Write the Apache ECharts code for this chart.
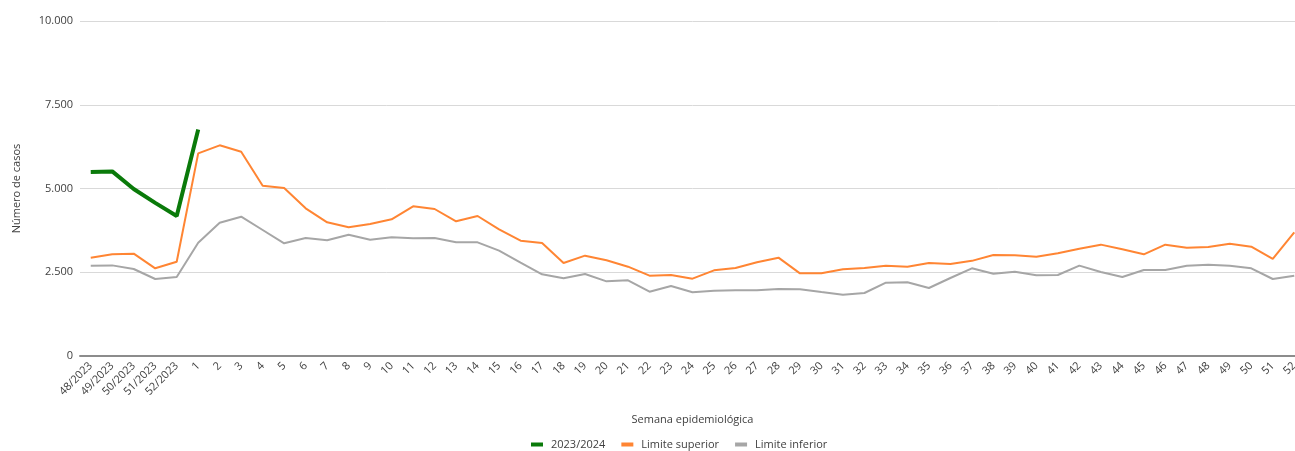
<!DOCTYPE html>
<html>
<head>
<meta charset="utf-8">
<style>
  html, body { margin: 0; padding: 0; background: #fff; overflow: hidden; }
  #chart { width: 1310px; height: 451px; }
</style>
<script src="https://cdn.jsdelivr.net/npm/echarts@6/dist/echarts.min.js"></script>
</head>
<body>
<div id="chart"></div>
<script>
// semanas: 48/2023..52/2023 y luego 1..52
const weeks = ['48/2023', '49/2023', '50/2023', '51/2023', '52/2023']
for (let i = 1; i <= 52; i++) weeks.push(String(i))

const current = [5490, 5510, 4985, 4570, 4180, 6760]

const upper = [
  2934, 3035, 3054, 2617, 2815,
  6050, 6289, 6099, 5084, 5015, 4409, 3990, 3841, 3940, 4080,
  4468, 4388, 4020, 4179, 3781, 3443, 3373, 2776, 2995, 2856,
  2666, 2398, 2418, 2308, 2557, 2627, 2796, 2935, 2468, 2468,
  2587, 2627, 2697, 2667, 2776, 2746, 2840, 3015, 3005, 2965,
  3065, 3204, 3324, 3184, 3035, 3324, 3234, 3254, 3353, 3264,
  2896, 3692
]

const lower = [
  2697, 2705, 2597, 2299, 2358,
  3383, 3980, 4159, 3761, 3363, 3522, 3453, 3622, 3473, 3542,
  3512, 3522, 3393, 3393, 3144, 2786, 2438, 2318, 2448, 2229,
  2259, 1920, 2090, 1901, 1950, 1960, 1960, 2000, 1990, 1910,
  1831, 1881, 2189, 2199, 2030, 2328, 2617, 2458, 2517, 2408,
  2418, 2697, 2507, 2358, 2567, 2567, 2697, 2726, 2697, 2617,
  2299, 2398
]

const yTicks = [0, 2500, 5000, 7500, 10000]

const FONT = "'Open Sans', 'Liberation Sans', sans-serif"
const TEXT = '#404040'

const chart = echarts.init(document.getElementById('chart'))

chart.setOption({
  animation: false,
  textStyle: { fontFamily: FONT },
  // el área de trazado se sale un poco por la derecha, como en la imagen original
  grid: { left: 80, width: 1225, top: 21, bottom: 95 },
  legend: {
    top: 434,
    left: 526,
    itemWidth: 12,
    itemHeight: 4,
    itemGap: 16,
    icon: 'rect',
    textStyle: { color: TEXT, fontSize: 11, fontFamily: FONT, padding: [0, 0, 0, 3] },
    data: ['2023/2024', 'Limite superior', 'Limite inferior']
  },
  xAxis: {
    type: 'category',
    data: weeks,
    boundaryGap: true,
    name: 'Semana epidemiológica',
    nameLocation: 'middle',
    nameGap: 58,
    nameTextStyle: { color: TEXT, fontSize: 11 },
    axisLine: { lineStyle: { color: '#8c8c8c', width: 2 } },
    axisTick: { show: false },
    axisLabel: {
      interval: 0,
      rotate: 45,
      color: TEXT,
      fontSize: 11,
      margin: 8
    }
  },
  yAxis: {
    type: 'value',
    min: yTicks[0],
    max: yTicks[yTicks.length - 1],
    interval: 2500,
    name: 'Número de casos',
    nameLocation: 'middle',
    nameGap: 58,
    nameRotate: 90,
    nameTextStyle: { color: TEXT, fontSize: 11 },
    axisLine: { show: false },
    axisTick: { show: false },
    axisLabel: {
      color: TEXT,
      fontSize: 11,
      margin: 7,
      formatter: v => v.toString().replace(/\B(?=(\d{3})+(?!\d))/g, '.')
    },
    splitLine: { lineStyle: { color: '#d9d9d9', width: 1 } }
  },
  series: [
    {
      name: '2023/2024',
      type: 'line',
      data: current,
      symbol: 'none',
      z: 3,
      itemStyle: { color: '#0a7a0a' },
      lineStyle: { color: '#0a7a0a', width: 4 }
    },
    {
      name: 'Limite superior',
      type: 'line',
      data: upper,
      symbol: 'none',
      itemStyle: { color: '#ff8533' },
      lineStyle: { color: '#ff8533', width: 2 }
    },
    {
      name: 'Limite inferior',
      type: 'line',
      data: lower,
      symbol: 'none',
      itemStyle: { color: '#a6a6a6' },
      lineStyle: { color: '#a6a6a6', width: 2 }
    }
  ]
})
</script>
</body>
</html>
